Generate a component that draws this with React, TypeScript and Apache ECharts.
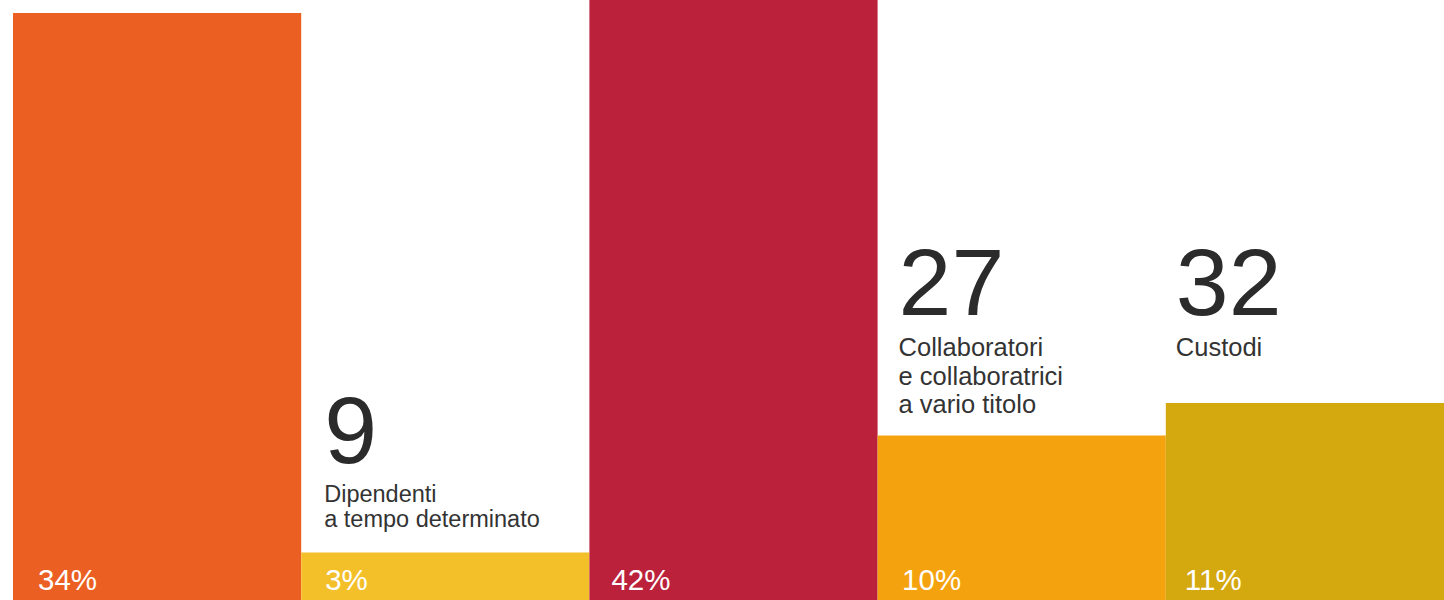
import React, { useEffect, useRef } from "react";
import * as echarts from "echarts";

const categories = [
  "Dipendenti a tempo indeterminato",
  "Dipendenti a tempo determinato",
  "Altro personale",
  "Collaboratori e collaboratrici a vario titolo",
  "Custodi",
];
const counts = [92, 9, 114, 27, 32];
const shares = ["34%", "3%", "42%", "10%", "11%"];
const showCount = [false, true, false, true, true];
const descLines = [
  [],
  ["Dipendenti", "a tempo determinato"],
  [],
  ["Collaboratori", "e collaboratrici", "a vario titolo"],
  ["Custodi"],
];
const colors = ["#EB6022", "#F4C02A", "#BC213C", "#F4A20D", "#D4A80F"];

const FONT = "'Liberation Sans', Arial, Helvetica, sans-serif";

// per-item label placements / styles (px)
const topLabelPos = [
  [0, 0],
  [23, -21],
  [0, 0],
  [21, -17],
  [10, -41.5],
];
const descStyle = ["d", "d", "d", "e", "e"];
const numStyle = ["n", "n", "n", "m", "m"];
const shareOffsetX = [25, 24, 22, 24.5, 19];

export default function App() {
  const ref = useRef<HTMLDivElement>(null);
  useEffect(() => {
    if (!ref.current) return;
    const chart = echarts.init(ref.current, null, { renderer: "svg" });
    chart.setOption({
      animation: false,
      grid: { left: 13, right: 0, top: 0, bottom: 0, containLabel: false },
      xAxis: {
        type: "category",
        data: categories,
        show: false,
      },
      yAxis: { type: "value", min: 0, max: 94, show: false },
      series: [
        {
          type: "bar",
          data: counts.map((v, i) => ({
            value: v,
            itemStyle: { color: colors[i] },
            label: {
              show: true,
              position: "insideBottomLeft",
              distance: 0,
              offset: [shareOffsetX[i], -17],
              formatter: shares[i],
              color: "#ffffff",
              fontFamily: FONT,
              fontSize: 29.5,
              lineHeight: 30,
            },
          })),
          barWidth: "100%",
          barGap: "-100%",
          clip: true,
        },
        {
          type: "bar",
          data: counts.map((v, i) => ({
            value: v,
            itemStyle: { color: "rgba(0,0,0,0)" },
            label: {
              show: showCount[i],
              position: topLabelPos[i],
              align: "left",
              verticalAlign: "bottom",
              formatter:
                "{" + numStyle[i] + "|" + v + "}\n" +
                descLines[i].map((l) => "{" + descStyle[i] + "|" + l + "}").join("\n"),
              rich: {
                n: {
                  fontFamily: FONT,
                  fontSize: 95,
                  lineHeight: 102.6,
                  color: "#2b2b2b",
                },
                m: {
                  fontFamily: FONT,
                  fontSize: 95,
                  lineHeight: 101.7,
                  color: "#2b2b2b",
                },
                d: {
                  fontFamily: FONT,
                  fontSize: 23.5,
                  lineHeight: 25,
                  color: "#333333",
                },
                e: {
                  fontFamily: FONT,
                  fontSize: 25.5,
                  lineHeight: 28.5,
                  color: "#333333",
                },
              },
            },
          })),
          barWidth: "100%",
          barGap: "-100%",
          silent: true,
          clip: false,
        },
      ],
    });
    return () => chart.dispose();
  }, []);
  return (
    <div
      style={{
        position: "fixed",
        left: 0,
        top: 0,
        width: 1444,
        height: 600,
        overflow: "hidden",
        background: "#ffffff",
      }}
    >
      <div ref={ref} style={{ width: 1454, height: 611 }} />
    </div>
  );
}
